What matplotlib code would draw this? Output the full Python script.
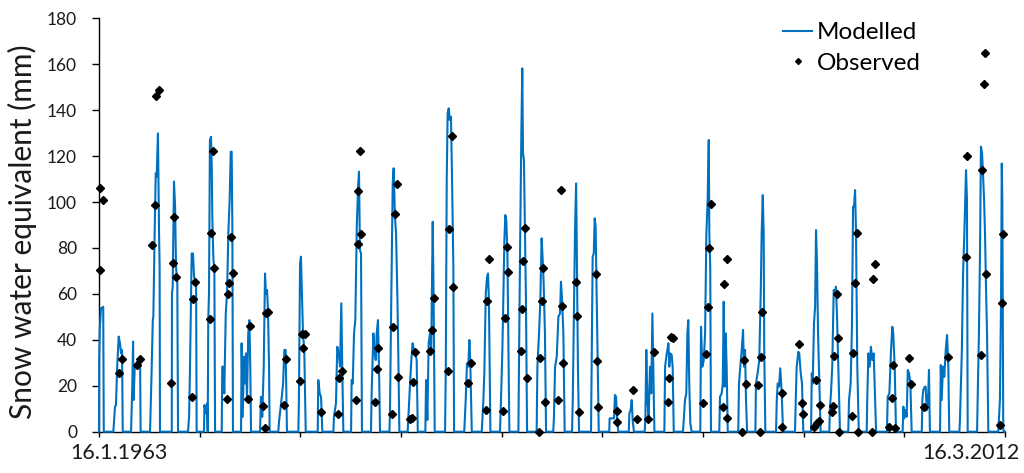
import matplotlib
matplotlib.use("Agg")
import matplotlib.pyplot as plt
from matplotlib.lines import Line2D
import numpy as np

plt.rcParams['font.family'] = ['Lato', 'DejaVu Sans']

# ===============================
# Data (decimal year, SWE in mm)
# ===============================
start_label = "16.1.1963"
end_label = "16.3.2012"
t_start, t_end = 1963.041, 2012.205

# modelled snow water equivalent, one winter per line
modelled = [
    (1963.041, 0), (1963.05, 31.2), (1963.08, 44.3), (1963.15, 53.7), (1963.27, 54.4), (1963.30, 0),
    (1963.82, 0), (1963.91, 10.9), (1963.96, 11.6), (1964.03, 28.3), (1964.11, 41.4), (1964.18, 38.5), (1964.24, 34.1), (1964.29, 35.6), (1964.33, 0),
    (1964.78, 0), (1964.85, 21), (1964.89, 39.2), (1964.92, 13.8), (1964.98, 28.3), (1965.09, 29.8), (1965.17, 31.2), (1965.27, 31.2), (1965.30, 0),
    (1965.81, 0), (1965.88, 21), (1965.96, 48.6), (1965.99, 50), (1966.06, 86.4), (1966.12, 112.5), (1966.17, 111), (1966.24, 129.9), (1966.30, 86.4), (1966.33, 71.8), (1966.35, 0),
    (1966.99, 0), (1967.00, 60.2), (1967.04, 63.1), (1967.11, 108.9), (1967.17, 98), (1967.22, 71.8), (1967.29, 64.6), (1967.33, 0),
    (1967.87, 0), (1967.93, 6.5), (1967.98, 28.3), (1968.03, 57.3), (1968.07, 77.6), (1968.14, 77.6), (1968.20, 67.5), (1968.31, 64.6), (1968.34, 0),
    (1968.74, 0), (1968.76, 11.6), (1968.85, 8), (1968.90, 12.3), (1968.94, 0), (1968.97, 48.6), (1969.01, 60.2), (1969.06, 127), (1969.12, 128.4), (1969.16, 115.4), (1969.19, 93.6), (1969.25, 74.7), (1969.30, 71.8), (1969.34, 0),
    (1969.70, 0), (1969.73, 28.3), (1969.79, 28.3), (1969.84, 16.7), (1969.92, 51.5), (1969.99, 60.2), (1970.06, 86.4), (1970.13, 100.9), (1970.19, 121.9), (1970.24, 121.9), (1970.28, 86.4), (1970.31, 0),
    (1970.75, 0), (1970.78, 38.5), (1970.84, 6.5), (1970.91, 32.7), (1970.96, 21), (1971.02, 34.1), (1971.07, 13.8), (1971.14, 42.8), (1971.20, 48.6), (1971.25, 28.3), (1971.29, 0),
    (1971.78, 0), (1971.83, 15.2), (1971.90, 6.5), (1971.98, 28.3), (1972.05, 68.9), (1972.10, 60.2), (1972.16, 61.7), (1972.21, 53), (1972.27, 28.3), (1972.30, 0),
    (1972.77, 0), (1972.81, 4.4), (1972.88, 9.4), (1972.96, 15.2), (1973.03, 21), (1973.10, 35.6), (1973.17, 35.6), (1973.24, 0),
    (1973.86, 0), (1973.89, 13.8), (1973.95, 73.3), (1974.00, 76.2), (1974.06, 57.3), (1974.11, 42.8), (1974.18, 35.6), (1974.26, 0),
    (1974.91, 0), (1974.94, 22.5), (1975.02, 16.7), (1975.09, 15.2), (1975.16, 0),
    (1975.76, 0), (1975.79, 6.5), (1975.90, 12.3), (1975.97, 37), (1976.05, 34.1), (1976.12, 28.3), (1976.19, 55.9), (1976.24, 28.3), (1976.30, 0),
    (1976.72, 0), (1976.75, 22.5), (1976.81, 21), (1976.88, 42.8), (1976.95, 48.6), (1977.03, 89.3), (1977.10, 106.7), (1977.15, 113.2), (1977.20, 79.1), (1977.26, 77.6), (1977.31, 0),
    (1977.80, 0), (1977.84, 18.1), (1977.93, 42.8), (1977.98, 35.6), (1978.06, 31.2), (1978.11, 42.8), (1978.18, 48.6), (1978.25, 21), (1978.29, 0),
    (1978.80, 0), (1978.83, 8), (1978.90, 57.3), (1978.98, 108.1), (1979.03, 114.7), (1979.10, 93.6), (1979.16, 86.4), (1979.23, 60.2), (1979.28, 35.6), (1979.34, 0),
    (1979.79, 0), (1979.83, 6.5), (1979.92, 21), (1979.99, 31.2), (1980.06, 38.5), (1980.13, 35.6), (1980.21, 34.1), (1980.28, 31.2), (1980.34, 0),
    (1980.75, 0), (1980.79, 22.5), (1980.86, 5.1), (1980.93, 38.5), (1981.00, 42.8), (1981.07, 35.6), (1981.15, 91.4), (1981.20, 57.3), (1981.26, 0),
    (1981.82, 0), (1981.86, 28.3), (1981.91, 109.6), (1981.96, 138.6), (1982.02, 140.8), (1982.07, 135.7), (1982.14, 137.2), (1982.21, 104.5), (1982.27, 71.8), (1982.31, 0),
    (1982.86, 0), (1982.94, 13.8), (1983.01, 29.8), (1983.08, 28.3), (1983.14, 39.9), (1983.19, 29.8), (1983.27, 0),
    (1983.81, 0), (1983.90, 13.8), (1983.95, 25.4), (1984.03, 60.2), (1984.10, 67.5), (1984.15, 68.9), (1984.20, 57.3), (1984.28, 0),
    (1984.80, 0), (1984.86, 15.2), (1984.93, 35.6), (1984.98, 57.3), (1985.04, 83.5), (1985.09, 94.3), (1985.14, 92.2), (1985.20, 79.1), (1985.25, 42.8), (1985.31, 0),
    (1985.80, 0), (1985.83, 28.3), (1985.90, 86.4), (1985.96, 129.9), (1986.01, 158.2), (1986.05, 121.2), (1986.10, 118.3), (1986.16, 86.4), (1986.21, 57.3), (1986.27, 0),
    (1986.79, 0), (1986.83, 28.3), (1986.92, 42.8), (1986.99, 57.3), (1987.06, 84.2), (1987.12, 74.7), (1987.17, 64.6), (1987.24, 42.8), (1987.30, 0),
    (1987.69, 0), (1987.73, 6.5), (1987.79, 28.3), (1987.88, 32.7), (1987.97, 50.1), (1988.06, 51.5), (1988.11, 65.3), (1988.17, 57.3), (1988.24, 42.8), (1988.31, 0),
    (1988.71, 0), (1988.75, 13.8), (1988.82, 57.3), (1988.87, 86.4), (1988.93, 108.1), (1988.96, 86.4), (1989.03, 28.3), (1989.09, 0),
    (1989.74, 0), (1989.78, 34.1), (1989.83, 76.2), (1989.89, 77.6), (1989.94, 92.9), (1989.99, 89.3), (1990.05, 57.3), (1990.10, 28.3), (1990.16, 0),
    (1990.73, 0), (1990.75, 5.8), (1990.99, 5.8), (1991.04, 16), (1991.10, 15.2), (1991.15, 6.5), (1991.22, 0),
    (1991.79, 0), (1991.82, 8), (1991.89, 9.4), (1991.95, 13.8), (1992.00, 5.1), (1992.07, 0),
    (1992.65, 0), (1992.69, 5.1), (1992.74, 35.6), (1992.80, 13.8), (1992.87, 6.5), (1992.94, 28.3), (1993.01, 16.7), (1993.07, 51.5), (1993.12, 28.3), (1993.18, 0),
    (1993.72, 0), (1993.76, 28.3), (1993.85, 34.1), (1993.94, 38.5), (1993.99, 28.3), (1994.04, 34.1), (1994.12, 33.4), (1994.17, 28.3), (1994.23, 0),
    (1994.72, 0), (1994.75, 2.2), (1994.84, 13.8), (1994.91, 16.7), (1994.97, 42.8), (1995.02, 48.6), (1995.07, 21), (1995.13, 3.6), (1995.20, 0),
    (1995.67, 0), (1995.71, 45.7), (1995.78, 28.3), (1995.86, 31.2), (1995.93, 42.8), (1996.00, 86.4), (1996.07, 100.9), (1996.13, 127), (1996.16, 86.4), (1996.21, 71.8), (1996.25, 0),
    (1996.70, 0), (1996.74, 15.2), (1996.83, 16.7), (1996.89, 21), (1996.94, 56.6), (1996.99, 19.6), (1997.05, 42.8), (1997.10, 28.3), (1997.16, 0),
    (1997.73, 0), (1997.77, 21), (1997.84, 28.3), (1997.92, 35.6), (1997.99, 44.3), (1998.04, 28.3), (1998.10, 35.6), (1998.15, 13.8), (1998.21, 0),
    (1998.66, 0), (1998.69, 21), (1998.78, 25.4), (1998.87, 31.2), (1998.95, 60.2), (1999.00, 86.4), (1999.06, 103), (1999.11, 86.4), (1999.14, 35.6), (1999.20, 0),
    (1999.78, 0), (1999.82, 13.8), (1999.87, 21), (1999.94, 19.6), (2000.01, 27.6), (2000.09, 16.7), (2000.16, 0),
    (2000.81, 0), (2000.85, 13.8), (2000.90, 28.3), (2000.99, 34.8), (2001.04, 34.1), (2001.12, 25.4), (2001.19, 21), (2001.26, 0),
    (2001.68, 0), (2001.72, 25.4), (2001.77, 21), (2001.84, 47.2), (2001.90, 54.4), (2001.95, 87.8), (2002.00, 74.7), (2002.06, 42.8), (2002.13, 21), (2002.20, 0),
    (2002.67, 0), (2002.71, 10.9), (2002.76, 16.7), (2002.83, 28.3), (2002.91, 61.7), (2002.98, 60.2), (2003.03, 63.1), (2003.09, 50.1), (2003.16, 28.3), (2003.25, 0),
    (2003.70, 0), (2003.74, 13.8), (2003.83, 21), (2003.90, 45.7), (2003.96, 98), (2004.01, 98), (2004.07, 105.2), (2004.12, 86.4), (2004.19, 28.3), (2004.27, 0),
    (2004.70, 0), (2004.73, 13.8), (2004.79, 34.1), (2004.86, 28.3), (2004.93, 37), (2005.00, 31.2), (2005.08, 34.1), (2005.13, 21), (2005.21, 0),
    (2005.80, 0), (2005.84, 15.2), (2005.93, 16.7), (2006.02, 35.6), (2006.09, 45.7), (2006.14, 42.8), (2006.22, 28.3), (2006.29, 0),
    (2006.65, 0), (2006.69, 10.9), (2006.74, 5.8), (2006.82, 9.4), (2006.87, 6.5), (2006.93, 26.9), (2007.00, 25.4), (2007.07, 21), (2007.14, 0),
    (2007.69, 0), (2007.72, 13.8), (2007.77, 18.1), (2007.85, 19.6), (2007.90, 19.6), (2007.96, 9.4), (2008.03, 13.8), (2008.08, 26.9), (2008.13, 0),
    (2008.68, 0), (2008.72, 29), (2008.77, 13.8), (2008.84, 28.3), (2008.91, 23.9), (2008.99, 35.6), (2009.06, 42.1), (2009.13, 28.3), (2009.18, 0),
    (2009.73, 0), (2009.76, 5.1), (2009.86, 34.1), (2009.93, 68.9), (2010.00, 86.4), (2010.05, 100.9), (2010.09, 113.9), (2010.14, 100.9), (2010.18, 0),
    (2010.69, 0), (2010.72, 13.8), (2010.79, 42.8), (2010.85, 79.1), (2010.90, 124.1), (2010.96, 121.2), (2011.01, 112.5), (2011.07, 100.9), (2011.12, 86.4), (2011.17, 64.6), (2011.23, 42.8), (2011.30, 0),
    (2011.84, 0), (2011.93, 13.8), (2011.99, 57.3), (2012.03, 116.8), (2012.06, 100.9), (2012.11, 1.5), (2012.13, 0), (2012.205, 0),
]

# observed snow water equivalent
observed = [
    (1963.10, 106), (1963.24, 100.9), (1963.10, 70.4),
    (1964.14, 25.4), (1964.27, 31.5),
    (1965.12, 28.9), (1965.27, 31.7),
    (1965.93, 81.3), (1966.08, 98.6), (1966.12, 146.2), (1966.30, 148.8), (1966.93, 21.3),
    (1967.13, 93.6), (1967.04, 73.3), (1967.22, 67.5),
    (1968.07, 15.2), (1968.12, 57.8), (1968.25, 65.3),
    (1969.06, 48.9), (1969.10, 86.6), (1969.22, 122.4), (1969.28, 71.1),
    (1969.97, 14.2), (1970.06, 59.8), (1970.11, 64.6), (1970.22, 84.6), (1970.31, 69.2),
    (1971.11, 14.2), (1971.24, 46.2),
    (1971.92, 11.3), (1972.05, 1.5), (1972.09, 51.5), (1972.23, 52.2),
    (1973.08, 11.6), (1973.21, 31.6),
    (1973.95, 22), (1974.04, 42.4), (1974.10, 36.3), (1974.22, 42.4),
    (1975.10, 8.4),
    (1976.03, 7.7), (1976.07, 23.5), (1976.21, 26.6),
    (1976.99, 13.8), (1977.08, 81.6), (1977.11, 104.9), (1977.20, 122.4), (1977.26, 85.9),
    (1978.02, 12.8), (1978.11, 27.3), (1978.20, 36.3),
    (1978.96, 7.7), (1979.01, 45.7), (1979.10, 95), (1979.23, 107.7), (1979.27, 23.7),
    (1979.92, 5.4), (1980.04, 5.8), (1980.10, 21.8), (1980.19, 34.8),
    (1981.00, 35.3), (1981.09, 44.3), (1981.22, 58.3),
    (1981.96, 26.4), (1982.03, 88.1), (1982.21, 128.9), (1982.27, 63.1),
    (1983.08, 21), (1983.21, 29.8),
    (1984.03, 9.4), (1984.08, 56.9), (1984.20, 75.2),
    (1984.98, 9), (1985.07, 49.3), (1985.18, 80.4), (1985.25, 69.7),
    (1985.94, 35.3), (1986.01, 53.4), (1986.05, 74.5), (1986.16, 88.8), (1986.25, 23.2),
    (1986.93, 0), (1986.99, 31.9), (1987.06, 56.9), (1987.15, 71.4), (1987.24, 13.1),
    (1987.97, 13.8), (1988.09, 105.2), (1988.18, 54.7), (1988.24, 29.8),
    (1988.93, 65), (1989.00, 50.5), (1989.09, 8.4),
    (1990.01, 68.6), (1990.05, 30.8), (1990.14, 10.6),
    (1991.13, 9.1), (1991.17, 4.4),
    (1992.00, 18.1), (1992.22, 5.4),
    (1992.82, 5.4), (1993.16, 34.5),
    (1993.94, 13.1), (1993.97, 23.2), (1994.06, 41.4), (1994.21, 40.9),
    (1995.80, 12.6), (1995.96, 33.8), (1996.07, 54.1), (1996.14, 80.1), (1996.24, 99.1),
    (1996.92, 10.6), (1997.14, 5.8), (1996.97, 64.2), (1997.10, 75.2),
    (1997.95, 0), (1998.04, 31.2), (1998.15, 20.8),
    (1998.82, 20.3), (1998.93, 0), (1998.98, 32.4), (1999.04, 52.2),
    (2000.11, 16.8), (2000.13, 1.9),
    (2001.04, 38.2), (2001.17, 12.6), (2001.23, 7.5),
    (2001.86, 2.2), (2001.93, 22.5), (2002.02, 3.9), (2002.11, 4.6), (2002.17, 11.6),
    (2002.80, 8.4), (2002.89, 11.2), (2002.94, 32.9), (2003.07, 59.8), (2003.16, 40.9), (2003.22, 0),
    (2003.89, 7), (2003.97, 34.1), (2004.05, 64.9), (2004.16, 86.6), (2004.21, 0),
    (2004.97, 0), (2005.03, 66.3), (2005.15, 72.9),
    (2005.91, 1.9), (2006.06, 14.5), (2006.11, 29), (2006.24, 1.5),
    (2007.01, 31.9), (2007.10, 20.6),
    (2007.81, 10.9),
    (2009.13, 32.4),
    (2010.07, 76.2), (2010.13, 120),
    (2010.90, 33.4), (2010.94, 113.9), (2011.08, 151.4), (2011.12, 164.7), (2011.19, 68.6),
    (2011.93, 2.9), (2012.06, 56.2), (2012.11, 85.9),
]

y_ticks = [0, 20, 40, 60, 80, 100, 120, 140, 160, 180]

model_year, model_swe = zip(*modelled)
obs_year, obs_swe = zip(*observed)

# ===============================
# Figure
# ===============================
fig = plt.figure(figsize=(10.24, 4.73), dpi=100)
ax = fig.add_axes([99 / 1024, 1 - 431.7 / 473, 906 / 1024, 413.4 / 473])

blue = "#0070C0"
ax.plot(model_year, model_swe, color=blue, lw=1.5, clip_on=False, zorder=3)
ax.plot(obs_year, obs_swe, linestyle="none", marker="D", markersize=4.3,
        color="black", clip_on=False, zorder=4)

ax.set_xlim(t_start, t_end)
ax.set_ylim(0, 180)
ax.set_yticks(y_ticks)

# ten evenly spaced tick marks, labels only at both ends
ax.set_xticks(np.linspace(t_start, t_end, 10))
ax.set_xticklabels([])
ax.text(-0.032, -0.052, start_label, transform=ax.transAxes, ha="left", va="center",
        fontsize=15.5, color="#1a1a1a")
ax.text(1.0165, -0.052, end_label, transform=ax.transAxes, ha="right", va="center",
        fontsize=15.5, color="#1a1a1a")

for s in ["top", "right"]:
    ax.spines[s].set_visible(False)
for s in ["left", "bottom"]:
    ax.spines[s].set_color("black")
    ax.spines[s].set_linewidth(1)

ax.tick_params(axis="y", direction="out", length=4.8, width=1, pad=11, labelsize=12.5,
               labelcolor="#1a1a1a")
ax.tick_params(axis="x", direction="out", length=3.6, width=1)

fig.text(22 / 1024, 1 - 232 / 473, "Snow water equivalent (mm)", rotation=90,
         ha="center", va="center", fontsize=21.5, color="#1a1a1a")

handles = [
    Line2D([], [], color=blue, lw=1.5),
    Line2D([], [], linestyle="none", marker="D", markersize=3, color="black"),
]
ax.legend(handles, ["Modelled", "Observed"], loc="upper left",
          bbox_to_anchor=(783 / 1024, 1 - 22 / 473), bbox_transform=fig.transFigure,
          frameon=False, fontsize=17.5, handlelength=1.2, handletextpad=0.2,
          borderpad=0, borderaxespad=0, labelspacing=0.4)

fig.savefig("out.png", dpi=100)
